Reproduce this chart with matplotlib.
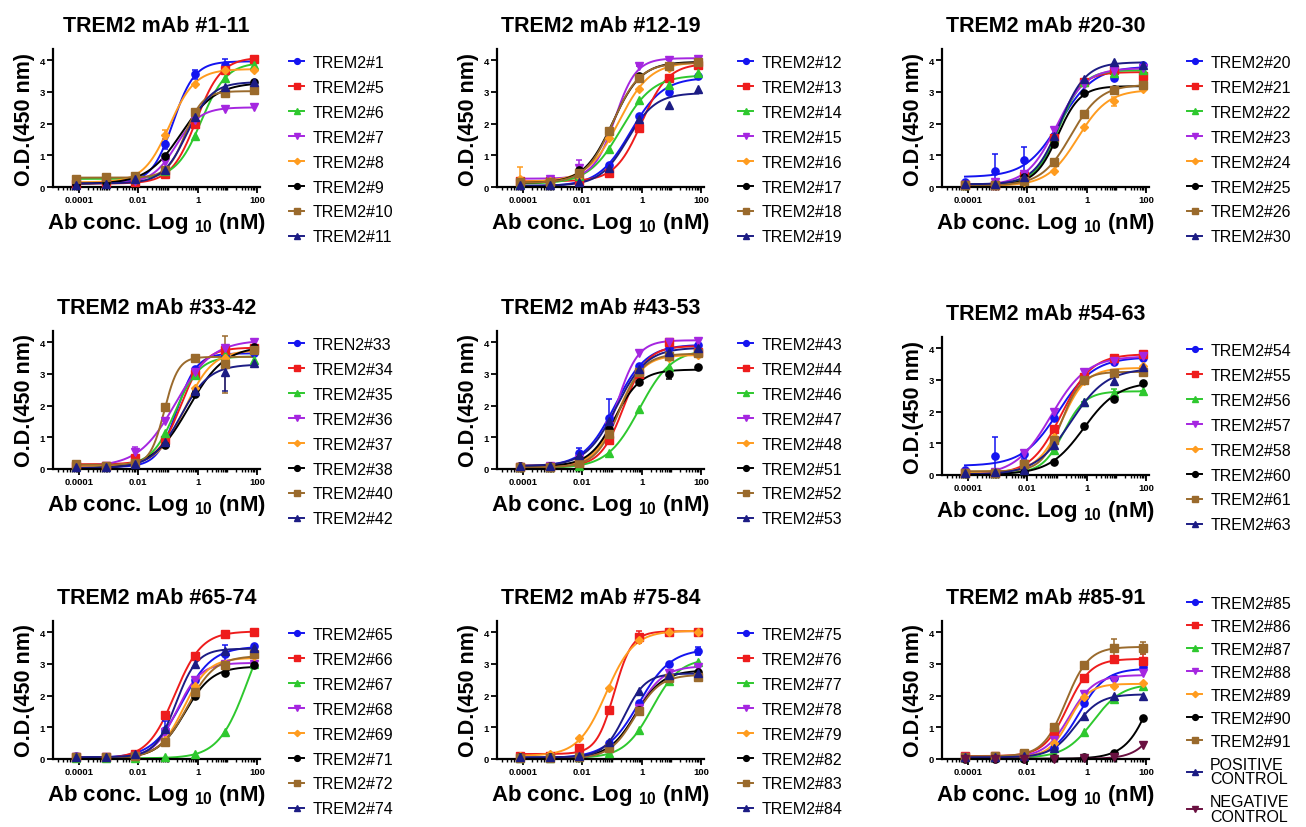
import numpy as np
import matplotlib.pyplot as plt
from matplotlib.ticker import FixedLocator, FixedFormatter, NullFormatter

plt.rcParams['font.family'] = ['Liberation Sans', 'DejaVu Sans']
plt.rcParams['mathtext.fontset'] = 'custom'
plt.rcParams['mathtext.bf'] = 'Liberation Sans:bold'
plt.rcParams['mathtext.rm'] = 'Liberation Sans:bold'

# antibody concentration, nM (10-fold dilutions)
conc = [8e-5, 8e-4, 8e-3, 8e-2, 0.8, 8, 80]

titles = ["TREM2 mAb #1-11", "TREM2 mAb #12-19", "TREM2 mAb #20-30",
          "TREM2 mAb #33-42", "TREM2 mAb #43-53", "TREM2 mAb #54-63",
          "TREM2 mAb #65-74", "TREM2 mAb #75-84", "TREM2 mAb #85-91"]

labels_1_11 = ["TREM2#1", "TREM2#5", "TREM2#6", "TREM2#7", "TREM2#8", "TREM2#9", "TREM2#10", "TREM2#11"]
od_1_11 = [[0.08, 0.12, 0.30, 1.35, 3.55, 3.85, 4.00],
           [0.10, 0.12, 0.15, 0.40, 2.00, 3.70, 4.05],
           [0.25, 0.25, 0.25, 0.50, 1.60, 3.45, 3.85],
           [0.10, 0.15, 0.20, 0.80, 2.10, 2.45, 2.52],
           [0.15, 0.20, 0.35, 1.65, 3.25, 3.70, 3.70],
           [0.10, 0.15, 0.30, 0.97, 2.35, 2.95, 3.30],
           [0.25, 0.30, 0.35, 0.55, 2.35, 2.95, 3.05],
           [0.05, 0.10, 0.25, 0.55, 2.20, 3.15, 3.30]]

labels_12_19 = ["TREM2#12", "TREM2#13", "TREM2#14", "TREM2#15", "TREM2#16", "TREM2#17", "TREM2#18", "TREM2#19"]
od_12_19 = [[0.05, 0.05, 0.15, 0.70, 2.25, 3.00, 3.50],
            [0.20, 0.20, 0.20, 0.45, 1.85, 3.45, 3.85],
            [0.10, 0.15, 0.35, 1.20, 2.75, 3.20, 3.60],
            [0.10, 0.25, 0.60, 1.60, 3.80, 4.00, 4.02],
            [0.25, 0.20, 0.35, 1.55, 3.10, 3.75, 3.95],
            [0.10, 0.15, 0.55, 1.75, 3.50, 3.80, 3.95],
            [0.15, 0.15, 0.45, 1.75, 3.45, 3.80, 3.95],
            [0.05, 0.05, 0.15, 0.60, 2.15, 2.60, 3.10]]

labels_20_30 = ["TREM2#20", "TREM2#21", "TREM2#22", "TREM2#23", "TREM2#24", "TREM2#25", "TREM2#26", "TREM2#30"]
od_20_30 = [[0.15, 0.50, 0.85, 1.60, 3.30, 3.45, 3.85],
            [0.05, 0.05, 0.35, 1.55, 3.30, 3.70, 3.50],
            [0.05, 0.10, 0.30, 1.50, 3.30, 3.60, 3.70],
            [0.05, 0.15, 0.40, 1.80, 3.25, 3.65, 3.75],
            [0.05, 0.05, 0.15, 0.50, 1.90, 2.70, 3.10],
            [0.05, 0.05, 0.30, 1.35, 2.95, 3.10, 3.20],
            [0.05, 0.05, 0.20, 0.80, 2.30, 3.05, 3.20],
            [0.10, 0.10, 0.30, 1.60, 3.40, 3.95, 3.85]]

labels_33_42 = ["TREN2#33", "TREM2#34", "TREM2#35", "TREM2#36", "TREM2#37", "TREM2#38", "TREM2#40", "TREM2#42"]
od_33_42 = [[0.05, 0.05, 0.15, 0.90, 3.15, 3.60, 3.65],
            [0.10, 0.10, 0.35, 0.90, 3.00, 3.75, 3.80],
            [0.10, 0.10, 0.20, 1.15, 2.95, 3.60, 3.45],
            [0.10, 0.10, 0.55, 1.50, 3.05, 3.80, 4.00],
            [0.10, 0.10, 0.20, 0.80, 2.55, 3.50, 3.75],
            [0.05, 0.05, 0.20, 0.75, 2.35, 3.30, 3.85],
            [0.15, 0.10, 0.20, 1.95, 3.50, 3.30, 3.75],
            [0.05, 0.05, 0.15, 0.85, 2.45, 3.05, 3.35]]

labels_43_53 = ["TREM2#43", "TREM2#44", "TREM2#46", "TREM2#47", "TREM2#48", "TREM2#51", "TREM2#52", "TREM2#53"]
od_43_53 = [[0.10, 0.10, 0.50, 1.60, 3.25, 3.80, 3.90],
            [0.05, 0.05, 0.20, 0.90, 3.00, 4.00, 3.70],
            [0.05, 0.05, 0.10, 0.50, 1.90, 3.20, 3.70],
            [0.05, 0.10, 0.30, 1.35, 3.65, 4.00, 4.05],
            [0.10, 0.10, 0.25, 1.20, 3.05, 3.50, 3.60],
            [0.10, 0.10, 0.30, 1.25, 2.75, 3.00, 3.20],
            [0.05, 0.05, 0.20, 1.10, 3.05, 3.55, 3.65],
            [0.10, 0.10, 0.45, 1.50, 3.15, 3.70, 3.80]]

labels_54_63 = ["TREM2#54", "TREM2#55", "TREM2#56", "TREM2#57", "TREM2#58", "TREM2#60", "TREM2#61", "TREM2#63"]
od_54_63 = [[0.15, 0.60, 0.65, 1.80, 3.05, 3.55, 3.70],
            [0.05, 0.05, 0.35, 1.45, 3.10, 3.70, 3.80],
            [0.05, 0.05, 0.15, 0.80, 2.30, 2.60, 2.65],
            [0.05, 0.10, 0.70, 2.00, 3.25, 3.60, 3.75],
            [0.05, 0.10, 0.30, 1.20, 2.95, 3.20, 3.45],
            [0.05, 0.05, 0.10, 0.40, 1.55, 2.40, 2.90],
            [0.05, 0.05, 0.35, 1.10, 3.00, 3.20, 3.25],
            [0.05, 0.10, 0.15, 0.95, 2.30, 2.95, 3.40]]

labels_65_74 = ["TREM2#65", "TREM2#66", "TREM2#67", "TREM2#68", "TREM2#69", "TREM2#71", "TREM2#72", "TREM2#74"]
od_65_74 = [[0.08, 0.05, 0.15, 0.90, 2.50, 3.30, 3.55],
            [0.05, 0.05, 0.15, 1.40, 3.25, 3.95, 4.00],
            [0.02, 0.02, 0.02, 0.05, 0.15, 0.85, 3.00],
            [0.05, 0.05, 0.10, 0.85, 2.50, 3.00, 3.00],
            [0.05, 0.05, 0.10, 0.60, 2.30, 3.00, 3.25],
            [0.05, 0.05, 0.10, 0.55, 2.00, 2.70, 2.95],
            [0.05, 0.05, 0.10, 0.55, 2.10, 2.95, 3.30],
            [0.05, 0.05, 0.15, 0.95, 3.00, 3.40, 3.50]]

labels_75_84 = ["TREM2#75", "TREM2#76", "TREM2#77", "TREM2#78", "TREM2#79", "TREM2#82", "TREM2#83", "TREM2#84"]
od_75_84 = [[0.05, 0.05, 0.10, 0.50, 1.75, 3.00, 3.40],
            [0.10, 0.10, 0.35, 1.55, 3.85, 4.00, 4.00],
            [0.02, 0.02, 0.05, 0.20, 0.90, 2.45, 3.05],
            [0.02, 0.02, 0.05, 0.35, 1.60, 2.70, 2.90],
            [0.10, 0.15, 0.65, 2.25, 3.75, 4.00, 4.00],
            [0.05, 0.05, 0.05, 0.40, 1.55, 2.60, 2.75],
            [0.02, 0.02, 0.05, 0.35, 1.50, 2.55, 2.60],
            [0.05, 0.05, 0.10, 0.55, 2.15, 2.65, 2.70]]

labels_85_91 = ["TREM2#85", "TREM2#86", "TREM2#87", "TREM2#88", "TREM2#89", "TREM2#90", "TREM2#91",
                "POSITIVE\nCONTROL", "NEGATIVE\nCONTROL"]
od_85_91 = [[0.05, 0.05, 0.10, 0.35, 1.75, 2.55, 2.90],
            [0.10, 0.10, 0.15, 0.85, 2.55, 3.15, 3.10],
            [0.05, 0.05, 0.05, 0.15, 0.85, 1.90, 2.30],
            [0.05, 0.05, 0.15, 0.60, 2.05, 2.50, 2.70],
            [0.05, 0.05, 0.10, 0.50, 1.95, 2.30, 2.40],
            [0.00, 0.00, 0.00, 0.02, 0.05, 0.20, 1.30],
            [0.05, 0.10, 0.20, 1.00, 2.95, 3.50, 3.50],
            [0.05, 0.05, 0.10, 0.35, 1.35, 2.00, 2.00],
            [0.00, 0.00, 0.00, 0.00, 0.02, 0.05, 0.45]]

# visible error bars (SD): (panel, series) -> 7 values
sd_visible = {
    (0, 0): [0, 0, 0, 0.15, 0.15, 0.20, 0],
    (0, 4): [0, 0, 0, 0.15, 0, 0, 0],
    (1, 3): [0, 0, 0.25, 0, 0, 0, 0],
    (1, 4): [0.38, 0, 0, 0, 0, 0, 0],
    (2, 0): [0, 0.55, 0.40, 0, 0, 0, 0],
    (2, 4): [0, 0, 0, 0, 0, 0.15, 0],
    (3, 6): [0, 0, 0, 0, 0, 0.90, 0],
    (3, 7): [0, 0, 0, 0, 0, 0.60, 0],
    (3, 3): [0, 0, 0.15, 0, 0, 0, 0],
    (4, 0): [0, 0, 0.15, 0.60, 0, 0, 0],
    (4, 5): [0, 0, 0, 0, 0, 0.15, 0],
    (5, 0): [0, 0.60, 0.15, 0, 0, 0, 0],
    (5, 2): [0, 0, 0, 0, 0, 0.12, 0],
    (6, 0): [0, 0, 0, 0.30, 0, 0.30, 0],
    (6, 4): [0, 0, 0, 0, 0, 0, 0.15],
    (7, 1): [0, 0, 0, 0, 0.20, 0, 0],
    (7, 0): [0, 0, 0, 0, 0, 0, 0.12],
    (8, 6): [0, 0, 0, 0, 0, 0.28, 0.18],
    (8, 1): [0, 0, 0, 0, 0, 0, 0.20],
}

panel_labels = [labels_1_11, labels_12_19, labels_20_30, labels_33_42, labels_43_53,
                labels_54_63, labels_65_74, labels_75_84, labels_85_91]
panel_od = [od_1_11, od_12_19, od_20_30, od_33_42, od_43_53,
            od_54_63, od_65_74, od_75_84, od_85_91]

colors = ['#1414f0', '#ee1c1c', '#2ec82e', '#a526e0', '#ff9c1f', '#000000', '#9a6a2c', '#1c1c84', '#6a1040']
markers = ['o', 's', '^', 'v', 'D', 'o', 's', '^', 'v']


def fit_4pl(logx, y):
    # simple 4-parameter logistic fit: grid over logEC50 / hill, linear solve for bottom/top
    c = np.linspace(-5, 3, 321)[:, None, None]
    h = np.linspace(0.3, 3.0, 109)[None, :, None]
    f = 1.0 / (1.0 + 10 ** ((c - logx[None, None, :]) * h))
    fm = f.mean(axis=2, keepdims=True)
    ym = y.mean()
    d = ((f - fm) * (y - ym)).sum(axis=2, keepdims=True) / (((f - fm) ** 2).sum(axis=2, keepdims=True) + 1e-12)
    b = ym - d * fm
    res = ((b + d * f - y) ** 2).sum(axis=2)
    top = (b + d)[..., 0]
    res[(top > 5.0) | (d[..., 0] < 0)] = np.inf
    i, j = np.unravel_index(np.argmin(res), res.shape)
    return c[i, 0, 0], h[0, j, 0], b[i, j, 0], b[i, j, 0] + d[i, j, 0]


# panel geometry in pixels (left of axes, y pixel of the zero line)
W, H = 1306, 828
col_left = [53, 497, 942]
col_legend = [289, 738, 1187]
row_zero = [188, 470, 760]
ax_w, ax_h = 207, 138

fig = plt.figure(figsize=(W / 100, H / 100), dpi=100)
logc = np.log10(conc)
xs = np.logspace(logc[0], logc[-1], 300)

for k in range(9):
    r, cidx = divmod(k, 3)
    zero = row_zero[r] + (6 if k == 5 else 0)
    ax = fig.add_axes([col_left[cidx] / W, 1 - zero / H, ax_w / W, ax_h / H])
    for s, (lab, vals) in enumerate(zip(panel_labels[k], panel_od[k])):
        vals = np.array(vals)
        ms = 5.2 if markers[s] != 'D' else 4.0
        ec, hill, bot, top = fit_4pl(logc, vals)
        ys = bot + (top - bot) / (1 + 10 ** ((ec - np.log10(xs)) * hill))
        ax.plot(xs, ys, color=colors[s], lw=1.4, zorder=2)
        if (k, s) in sd_visible:
            ax.errorbar(conc, vals, yerr=sd_visible[(k, s)], fmt='none', ecolor=colors[s],
                        elinewidth=1.1, capsize=2.2, capthick=1.1, zorder=2.5)
        ax.plot(conc, vals, ls='none', marker=markers[s], color=colors[s],
                ms=ms, zorder=3, clip_on=False)
        ax.plot([], [], color=colors[s], lw=1.4, marker=markers[s], ms=ms, label=lab)

    ax.set_xscale('log')
    ax.set_xlim(1.35e-5, 125)
    ax.set_ylim(0, 4.35)
    ax.xaxis.set_major_locator(FixedLocator([1e-4, 1e-2, 1, 100]))
    ax.xaxis.set_major_formatter(FixedFormatter(['0.0001', '0.01', '1', '100']))
    minors = [m * 10.0 ** e for e in range(-5, 3) for m in range(1, 10)]
    minors = [v for v in minors if 1.35e-5 <= v <= 125 and v not in (1e-4, 1e-2, 1, 100)]
    ax.xaxis.set_minor_locator(FixedLocator(minors))
    ax.xaxis.set_minor_formatter(NullFormatter())
    ax.set_yticks([0, 1, 2, 3, 4])
    for sp in ['top', 'right']:
        ax.spines[sp].set_visible(False)
    for sp in ['left', 'bottom']:
        ax.spines[sp].set_linewidth(1.6)
    ax.tick_params(axis='both', which='major', length=4, width=1.3, labelsize=6.8, pad=2)
    ax.tick_params(axis='x', which='minor', length=2.5, width=1.0)
    for t in ax.get_xticklabels() + ax.get_yticklabels():
        t.set_fontweight('bold')

    ax.set_title(titles[k], fontsize=15.5, fontweight='bold', pad=13)
    ax.set_ylabel('O.D.(450 nm)', fontsize=15.5, fontweight='bold', labelpad=3)
    ax.set_xlabel(r'Ab conc. Log $_{\mathbf{10}}$ (nM)', fontsize=16, fontweight='bold', labelpad=4)

    if k == 8:
        first = 606
        spacing = 0.5
    else:
        first = zero - ax_h + 15
        spacing = 0.62
    leg = ax.legend(loc='upper left', bbox_to_anchor=(col_legend[cidx] / W, 1 - (first - 9) / H),
                    bbox_transform=fig.transFigure, frameon=False, fontsize=11.5,
                    handlelength=0.95, handletextpad=0.5, borderpad=0, borderaxespad=0,
                    labelspacing=spacing, markerscale=0.8)
    for t in leg.get_texts():
        t.set_linespacing(0.95)

fig.savefig('out.png', dpi=100)
